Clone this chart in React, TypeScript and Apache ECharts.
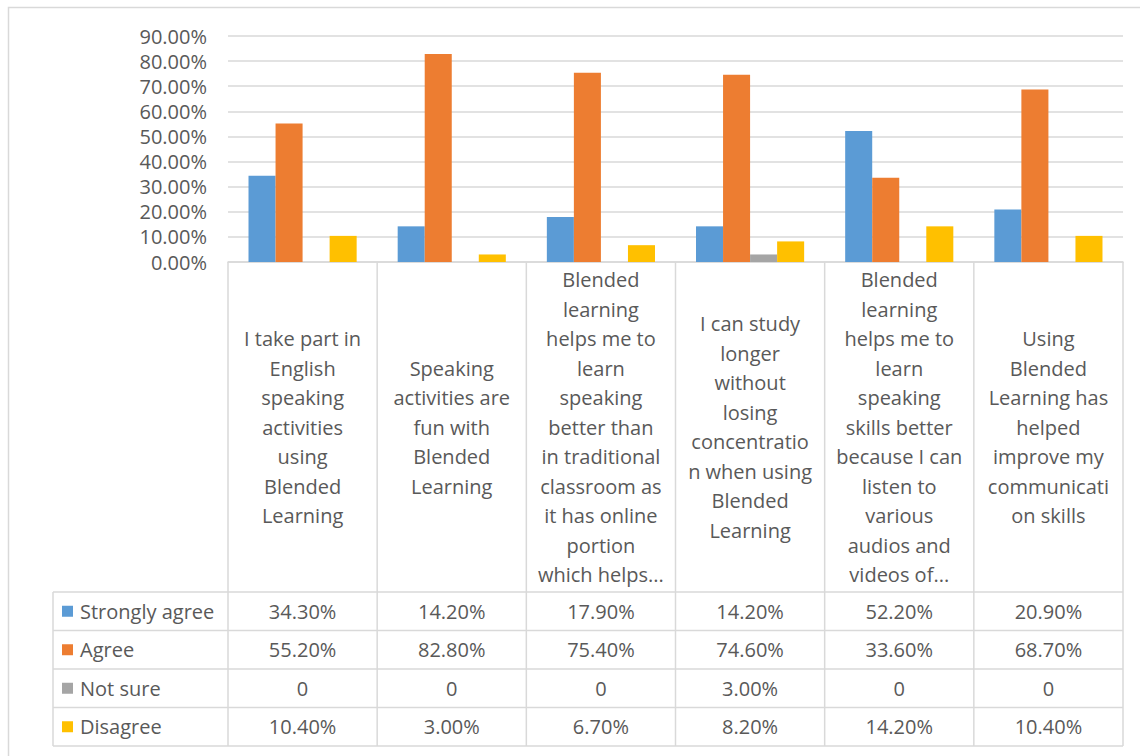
import React, { useEffect, useRef } from "react";
import * as echarts from "echarts";

const categories = [
  "I take part in English speaking activities using Blended Learning",
  "Speaking activities are fun with Blended Learning",
  "Blended learning helps me to learn speaking better than in traditional classroom as it has online portion which helps...",
  "I can study longer without losing concentration when using Blended Learning",
  "Blended learning helps me to learn speaking skills better because I can listen to various audios and videos of...",
  "Using Blended Learning has helped improve my communication skills",
];
const wrappedLabels = [
  "I take part in\nEnglish\nspeaking\nactivities\nusing\nBlended\nLearning",
  "Speaking\nactivities are\nfun with\nBlended\nLearning",
  "Blended\nlearning\nhelps me to\nlearn\nspeaking\nbetter than\nin traditional\nclassroom as\nit has online\nportion\nwhich helps...",
  "I can study\nlonger\nwithout\nlosing\nconcentratio\nn when using\nBlended\nLearning",
  "Blended\nlearning\nhelps me to\nlearn\nspeaking\nskills better\nbecause I can\nlisten to\nvarious\naudios and\nvideos of...",
  "Using\nBlended\nLearning has\nhelped\nimprove my\ncommunicati\non skills",
];
const seriesNames = ["Strongly agree", "Agree", "Not sure", "Disagree"];
const stronglyAgree = [0.343, 0.142, 0.179, 0.142, 0.522, 0.209];
const agree = [0.552, 0.828, 0.754, 0.746, 0.336, 0.687];
const notSure = [0, 0, 0, 0.03, 0, 0];
const disagree = [0.104, 0.03, 0.067, 0.082, 0.142, 0.104];
const colors = ["#5B9BD5", "#ED7D31", "#A5A5A5", "#FFC000"];

const FONT = "'Open Sans', Lato, sans-serif";
const FS = 20;
const TXT = "#595959";
const LINE = "#D9D9D9";

export default function App() {
  const ref = useRef<HTMLDivElement>(null);
  useEffect(() => {
    document.body.style.margin = "0";
    const chart = echarts.init(ref.current!, null, { renderer: "svg" });
    const W = 1140;
    const H = 756;
    const left = 228;
    const right = 1123;
    const top = 36;
    const axisY = 262;
    const headerBottom = 592;
    const tableBottom = 746;
    const tableLeft = 53;
    const colW = (right - left) / categories.length;
    const rowH = (tableBottom - headerBottom) / seriesNames.length;
    const allData = [stronglyAgree, agree, notSure, disagree];
    const fmt = (v: number) => (v === 0 ? "0" : (v * 100).toFixed(2) + "%");

    const g: any[] = [];
    const ln = (x1: number, y1: number, x2: number, y2: number) =>
      g.push({
        type: "line",
        silent: true,
        shape: { x1, y1, x2, y2 },
        style: { stroke: LINE, lineWidth: 1.5 },
      });
    g.push({
      type: "rect",
      silent: true,
      shape: { x: 8.5, y: 7.5, width: W + 10, height: H + 10 },
      style: { fill: "none", stroke: LINE, lineWidth: 1.5 },
    });
    for (let i = 0; i <= categories.length; i++) {
      const x = left + i * colW;
      ln(x, axisY, x, tableBottom);
    }
    ln(tableLeft, headerBottom, tableLeft, tableBottom);
    for (let r = 0; r <= seriesNames.length; r++) {
      const y = headerBottom + r * rowH;
      ln(tableLeft, y, right, y);
    }
    seriesNames.forEach((name, r) => {
      const cy = headerBottom + (r + 0.5) * rowH;
      g.push({
        type: "rect",
        silent: true,
        shape: { x: 62, y: cy - 5.5, width: 11, height: 11 },
        style: { fill: colors[r] },
      });
      g.push({
        type: "text",
        silent: true,
        x: 80,
        y: cy,
        style: {
          text: name,
          fill: TXT,
          font: `${FS}px ${FONT}`,
          textVerticalAlign: "middle",
          textAlign: "left",
        },
      });
      allData[r].forEach((v, c) => {
        g.push({
          type: "text",
          silent: true,
          x: left + (c + 0.5) * colW,
          y: cy,
          style: {
            text: fmt(v),
            fill: TXT,
            font: `${FS}px ${FONT}`,
            textVerticalAlign: "middle",
            textAlign: "center",
          },
        });
      });
    });

    chart.setOption({
      animation: false,
      textStyle: { fontFamily: FONT },
      grid: { left, right: W - right, top, bottom: H - axisY, containLabel: false },
      xAxis: {
        type: "category",
        data: categories,
        axisLine: { show: true, lineStyle: { color: LINE, width: 1.5 } },
        axisTick: { show: false },
        axisLabel: {
          interval: 0,
          margin: (headerBottom - axisY) / 2,
          verticalAlign: "middle",
          lineHeight: 29.5,
          color: TXT,
          fontSize: FS,
          fontFamily: FONT,
          formatter: (_v: string, i: number) => wrappedLabels[i],
        },
      },
      yAxis: {
        type: "value",
        min: 0,
        max: 0.9,
        interval: 0.1,
        axisLine: { show: false },
        axisTick: { show: false },
        splitLine: { lineStyle: { color: LINE, width: 1.5 } },
        axisLabel: {
          color: TXT,
          fontSize: FS,
          fontFamily: FONT,
          margin: 21,
          formatter: (v: number) => (v * 100).toFixed(2) + "%",
        },
      },
      series: seriesNames.map((name, i) => ({
        name,
        type: "bar",
        data: allData[i],
        barGap: "0%",
        barCategoryGap: "27.5%",
        itemStyle: { color: colors[i] },
      })),
      graphic: g,
    });
    return () => chart.dispose();
  }, []);
  return <div ref={ref} style={{ width: 1140, height: 756 }} />;
}
